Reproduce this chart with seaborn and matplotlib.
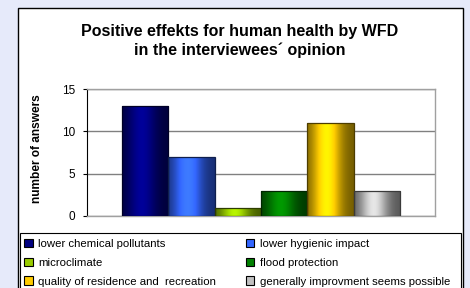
import numpy as np
import pandas as pd
import matplotlib
matplotlib.use("Agg")
import matplotlib.pyplot as plt
import matplotlib.colors as mcolors
from matplotlib.patches import Rectangle, Patch
import seaborn as sns

categories = ["lower chemical pollutants", "lower hygienic impact", "microclimate",
              "flood protection", "quality of residence and  recreation",
              "generally improvment seems possible"]
answers = [13, 7, 1, 3, 11, 3]
colors = ["#000080", "#3366FF", "#99CC00", "#008000", "#FFCC00", "#C0C0C0"]

df = pd.DataFrame({"group": [""] * len(categories), "category": categories, "answers": answers})

sns.set_style("white")
plt.rcParams["font.family"] = ["Liberation Sans", "DejaVu Sans"]
plt.rcParams["text.color"] = "black"
plt.rcParams["ytick.color"] = "black"
plt.rcParams["ytick.labelcolor"] = "black"

fig = plt.figure(figsize=(4.7, 2.88), dpi=100, facecolor="#E6EAFA")

# white panel and legend box (figure coords)
fig.patches.append(Rectangle((17.5 / 470, -0.05), (463 - 17.5) / 470, 1.05 - 7.5 / 288,
                             transform=fig.transFigure, facecolor="white",
                             edgecolor="black", linewidth=1.0, zorder=-3))
fig.patches.append(Rectangle((19.5 / 470, -0.05), (461 - 19.5) / 470, 1.05 - 233.5 / 288,
                             transform=fig.transFigure, facecolor="white",
                             edgecolor="black", linewidth=0.8, zorder=-2))

ax = fig.add_axes([87 / 470, 1 - 216 / 288, 348 / 470, 127 / 288])
sns.barplot(data=df, x="group", y="answers", hue="category", hue_order=categories,
            palette=colors, width=0.8, ax=ax, legend=False, zorder=3)
ax.set_facecolor("white")
ax.set_xticks([])
ax.set_xlabel("")
ax.set_ylabel("")
ax.tick_params(axis="y", labelsize=8.5, length=3, width=0.8, pad=5.5, left=True,
               color="black", labelcolor="black")
ax.yaxis.grid(True, color="#808080", linewidth=1.0, zorder=0)
ax.set_axisbelow(True)
for side in ["top", "right", "bottom"]:
    ax.spines[side].set_color("#A0A0A0")
    ax.spines[side].set_linewidth(1.0)
ax.spines["left"].set_color("black")
ax.spines["left"].set_linewidth(0.8)

# cylinder-like shading on the bars
for patch, c in zip(ax.patches, colors):
    x0, y0 = patch.get_x(), patch.get_y()
    w, h = patch.get_width(), patch.get_height()
    base = np.array(mcolors.to_rgb(c))
    t = np.linspace(0, 1, 64)
    shade = 0.45 + 0.75 * np.exp(-((t - 0.42) / 0.3) ** 2)
    img = np.clip(base[None, :] * shade[:, None], 0, 1)[None, :, :]
    im = ax.imshow(img, extent=(x0, x0 + w, y0, y0 + h), aspect="auto", zorder=3.5,
                   interpolation="bilinear")
    im.set_clip_path(patch)
    patch.set_edgecolor(tuple(base * 0.3))
    patch.set_linewidth(0.9)
    patch.set_zorder(3.6)
    patch.set_facecolor("none")
ax.set_xlim(-0.5, 0.5)
ax.set_ylim(0, 15)
ax.set_yticks([0, 5, 10, 15])

fig.text(240 / 470, 1 - 41 / 288,
         "Positive effekts for human health by WFD\nin the interviewees\u00b4 opinion",
         ha="center", va="center", fontsize=11.5, fontweight="bold", linespacing=1.25,
         color="black")
fig.text(37.5 / 470, 1 - 149 / 288, "number of answers", rotation=90,
         ha="center", va="center", fontsize=8.6, fontweight="bold", color="black")

handles = [Patch(facecolor=c, edgecolor="black", linewidth=0.8) for c in colors]
order = [0, 2, 4, 1, 3, 5]
leg = fig.legend([handles[i] for i in order], [categories[i] for i in order], ncol=2,
                 loc="upper left", bbox_to_anchor=(24 / 470, 1 - 239 / 288), frameon=False,
                 fontsize=8.2, handlelength=0.75, handleheight=0.75, handletextpad=0.5,
                 labelspacing=0.75, columnspacing=2.6, borderpad=0, borderaxespad=0)
for txt in leg.get_texts():
    txt.set_color("black")

fig.savefig("out.png", dpi=100, facecolor=fig.get_facecolor())
